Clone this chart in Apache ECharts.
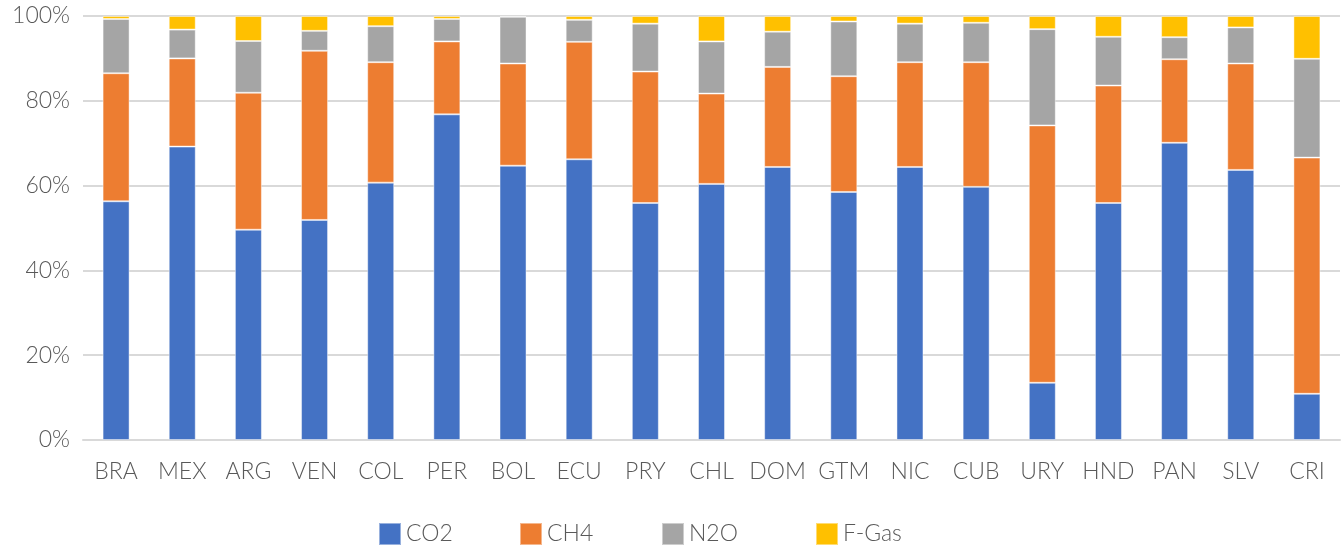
<!DOCTYPE html>
<html>
<head>
<meta charset="utf-8">
<script src="https://cdn.jsdelivr.net/npm/echarts@6/dist/echarts.min.js"></script>
<style>
  html, body { margin: 0; padding: 0; background: #fff; }
  #chart { width: 1343px; height: 548px; }
</style>
</head>
<body>
<div id="chart"></div>
<script>
// Share of greenhouse gas emissions by gas (%), per country
const countries = ['BRA','MEX','ARG','VEN','COL','PER','BOL','ECU','PRY','CHL','DOM','GTM','NIC','CUB','URY','HND','PAN','SLV','CRI'];
const co2  = [56.3, 69.2, 49.6, 51.9, 60.7, 76.8, 64.7, 66.2, 55.9, 60.4, 64.4, 58.5, 64.4, 59.7, 13.5, 55.9, 70.1, 63.7, 10.9];
const ch4  = [30.2, 20.8, 32.3, 39.9, 28.4, 17.2, 24.1, 27.7, 31.0, 21.3, 23.6, 27.3, 24.7, 29.4, 60.7, 27.7, 19.7, 25.1, 55.7];
const n2o  = [12.8,  6.8, 12.2,  4.7,  8.5,  5.3, 11.0,  5.2, 11.3, 12.3,  8.3, 12.9,  9.1,  9.3, 22.7, 11.5,  5.2,  8.5, 23.3];
const fgas = [ 0.7,  3.2,  5.9,  3.5,  2.4,  0.7,  0.2,  0.9,  1.8,  6.0,  3.7,  1.3,  1.8,  1.6,  3.1,  4.9,  5.0,  2.7, 10.1];
const seriesNames = ['CO2', 'CH4', 'N2O', 'F-Gas'];
const yTicks = { min: 0, max: 100, interval: 20 };

const colors = ['#4472C4', '#ED7D31', '#A5A5A5', '#FFC000'];
const values = [co2, ch4, n2o, fgas];
const font = 'Lato, "Open Sans", sans-serif';
const textColor = '#595959';

// one legend block per gas, each placed in its own slot along the bottom
const legendLefts = [373, 514, 656, 810];
const legends = seriesNames.map((name, i) => ({
  data: [name],
  left: legendLefts[i],
  top: 517,
  itemWidth: 22,
  itemHeight: 22,
  icon: 'rect',
  textStyle: { fontFamily: font, fontSize: 23, fontWeight: 300, color: textColor }
}));

const chart = echarts.init(document.getElementById('chart'), null, { renderer: 'canvas' });
chart.setOption({
  animation: false,
  color: colors,
  grid: { left: 83, right: 3, top: 16, bottom: 108, containLabel: false },
  legend: legends,
  xAxis: {
    type: 'category',
    data: countries,
    axisLine: { show: true, lineStyle: { color: '#D9D9D9', width: 2 } },
    axisTick: { show: false },
    axisLabel: { interval: 0, margin: 20, fontFamily: font, fontSize: 23, fontWeight: 300, color: textColor }
  },
  yAxis: {
    type: 'value',
    min: yTicks.min,
    max: yTicks.max,
    interval: yTicks.interval,
    axisLine: { show: false },
    axisTick: { show: false },
    splitLine: { lineStyle: { color: '#D9D9D9', width: 2 } },
    axisLabel: { margin: 13, fontFamily: font, fontSize: 23, fontWeight: 300, color: textColor, formatter: '{value}%' }
  },
  series: seriesNames.map((name, i) => ({
    name,
    type: 'bar',
    stack: 'total',
    barWidth: 27,
    data: values[i],
    itemStyle: { color: colors[i], borderColor: 'rgba(255,255,255,0.45)', borderWidth: 1 }
  }))
});
</script>
</body>
</html>
